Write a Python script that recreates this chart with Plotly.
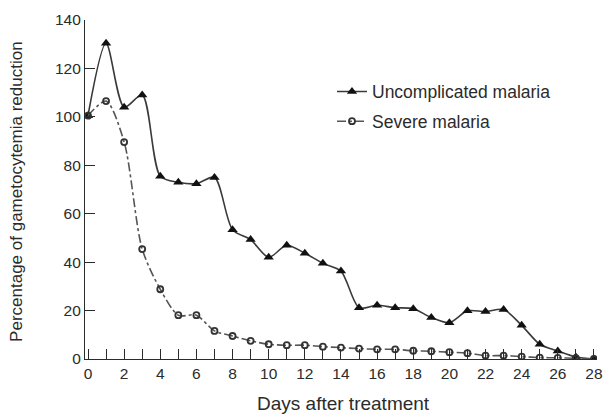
import plotly.graph_objects as go

days = list(range(0, 29))
uncomplicated = [100.5, 130.4, 104.0, 109.0, 75.5, 73.0, 72.4, 75.0, 53.4, 49.3,
                 42.0, 47.0, 43.7, 39.5, 36.3, 21.2, 22.2, 21.2, 20.8, 17.1,
                 15.0, 19.9, 19.6, 20.4, 13.9, 6.1, 3.3, 0.8, 0.0]
severe = [100.5, 106.5, 89.6, 45.4, 28.8, 18.1, 18.1, 11.6, 9.5, 7.5,
          6.1, 5.7, 5.7, 5.1, 4.7, 4.3, 4.0, 4.0, 3.4, 3.2,
          2.8, 2.4, 1.4, 1.4, 1.0, 0.6, 0.5, 0.3, 0.0]
x_ticks = list(range(0, 29, 2))
y_ticks = list(range(0, 141, 20))

FONT = "Liberation Sans, Arial, sans-serif"
INK = "#2b2b2b"

fig = go.Figure()
fig.add_trace(go.Scatter(
    x=days, y=uncomplicated, name="Uncomplicated malaria", legendgroup="a",
    mode="lines+markers",
    line=dict(color="#3a3a3a", width=1.6, shape="spline", smoothing=0.8),
    marker=dict(symbol="triangle-up", size=9, color="#111111"),
))
fig.add_trace(go.Scatter(
    x=days, y=severe, name="Severe malaria", legendgroup="b",
    mode="lines+markers",
    line=dict(color="#555555", width=1.6, shape="spline", smoothing=0.8, dash="dashdot"),
    marker=dict(symbol="circle-open", size=6, color="#333333", line=dict(width=1.8)),
))

fig.update_layout(
    width=603, height=415,
    margin=dict(l=85, r=6, t=20, b=56),
    plot_bgcolor="white", paper_bgcolor="white",
    font=dict(family=FONT, size=15, color=INK),
    showlegend=True,
    legend=dict(x=0.4824, y=0.842, xanchor="left", yanchor="top",
                font=dict(family=FONT, size=17.5, color=INK),
                bgcolor="rgba(0,0,0,0)", tracegroupgap=4, traceorder="grouped",
                itemwidth=30),
    annotations=[
        dict(text="Days after treatment", xref="paper", yref="paper",
             x=0.504, y=-0.1327, xanchor="center", yanchor="middle",
             showarrow=False, font=dict(family=FONT, size=19, color=INK)),
        dict(text="Percentage of gametocytemia reduction", xref="paper", yref="paper",
             x=-0.1328, y=0.493, xanchor="center", yanchor="middle", textangle=-90,
             showarrow=False, font=dict(family=FONT, size=17, color=INK)),
    ],
)
fig.update_xaxes(
    range=[-0.166, 28.17], tickmode="array", tickvals=x_ticks,
    ticktext=[str(v) for v in x_ticks],
    ticks="inside", ticklen=10, tickwidth=1, tickcolor=INK,
    minor=dict(tickmode="linear", tick0=0, dtick=1, ticks="inside", ticklen=10, tickcolor=INK),
    showline=True, linecolor=INK, linewidth=1.2,
    showgrid=False, zeroline=False, automargin=False,
    tickfont=dict(size=15.5),
)
fig.update_yaxes(
    range=[0, 140], tickmode="array", tickvals=y_ticks,
    ticks="inside", ticklen=10, tickwidth=1, tickcolor=INK,
    showline=True, linecolor=INK, linewidth=1.2,
    showgrid=False, zeroline=False, automargin=False,
    tickfont=dict(size=15.5),
)

fig.write_html(
    "out.html",
    config={"displayModeBar": False},
    post_script="document.documentElement.style.overflow='hidden';"
                "document.body.style.margin='0';document.body.style.overflow='hidden';",
)
